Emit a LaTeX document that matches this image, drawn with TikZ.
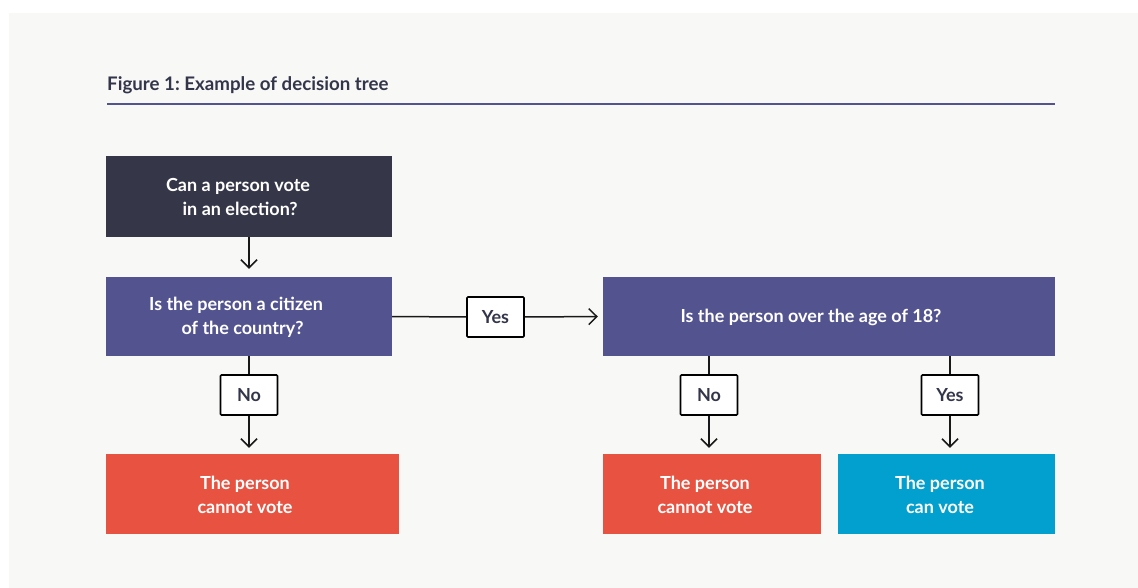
\documentclass[tikz,border=0pt]{standalone}
\usepackage{fontspec}
\setmainfont{Lato}
\frenchspacing
\usetikzlibrary{arrows.meta}
\definecolor{bgc}{HTML}{F8F8F6}
\definecolor{darkbox}{HTML}{353748}
\definecolor{purp}{HTML}{53548F}
\definecolor{redbox}{HTML}{E85341}
\definecolor{bluebox}{HTML}{02A0CF}
\definecolor{inkc}{HTML}{33364A}
\begin{document}
\begin{tikzpicture}[x=1pt,y=-1pt,
  box/.style={draw=none,minimum width=#1,inner sep=0pt,minimum height=80pt},
  boxtext/.style={text=white,align=center,font=\bfseries\fontsize{18}{24}\selectfont,inner sep=0pt},
  lab/.style={draw=black,fill=white,line width=1.6pt,rounded corners=1pt,minimum width=57pt,minimum height=40pt,inner sep=0pt,text=inkc,font=\bfseries\fontsize{18}{20}\selectfont},
  conn/.style={draw=black!90,line width=1.5pt},
  arr/.style={conn,-{Straight Barb[length=8pt,width=16pt,line width=1.5pt]},shorten >=6pt}]
\useasboundingbox (0,0) rectangle (1138,588);
\fill[white] (0,0) rectangle (1138,588);
\fill[bgc] (9,13) rectangle (1138,588);
% title
\node[anchor=base west,inner sep=0pt,text=inkc,font=\bfseries\fontsize{18.7}{22}\selectfont] (title) at (107,91) {Figure 1: Example of decision tree};
\draw[purp,line width=2pt] (107,104) coordinate (rl) -- (1055,104) coordinate (rr);
% boxes
\node[box=286pt,fill=darkbox,minimum height=81pt] (b1) at (249,196.5) {};
\node[boxtext] (t1) at (238,197) {Can a person vote\\\ in an election?};
\node[box=286pt,fill=purp,minimum height=79pt] (b2) at (249,316.5) {};
\node[boxtext] (t2) at (236,317) {Is the person a citizen\\\ \ \ of the country?};
\node[box=452pt,fill=purp,minimum height=79pt] (b3) at (829,316.5) {};
\node[boxtext] (t3) at (811,317) {Is the person over the age of 18?};
\node[box=293pt,fill=redbox] (b4) at (252.5,494) {};
\node[boxtext] (t4) at (245,495) {The person\\cannot vote};
\node[box=218pt,fill=redbox] (b5) at (712,494) {};
\node[boxtext] (t5) at (705,495) {The person\\cannot vote};
\node[box=217pt,fill=bluebox] (b6) at (946.5,494) {};
\node[boxtext] (t6) at (940,495) {The person\\can vote};
% label boxes
\node[lab] (yes1) at (495.5,317) {Yes};
\node[lab] (no1) at (249,395) {No};
\node[lab] (no2) at (709,395) {No};
\node[lab] (yes2) at (950,395) {Yes};
% connectors
\draw[arr,shorten >=8pt] (b1.south) -- (b2.north);
\draw[conn] (b2.east) -- (yes1.west);
\draw[arr,shorten >=5pt] (yes1.east) -- (b3.west);
\draw[conn] (no1.north |- b2.south) -- (no1.north);
\draw[arr] (no1.south) -- (no1.south |- b4.north);
\draw[conn] (no2.north |- b3.south) -- (no2.north);
\draw[arr] (no2.south) -- (no2.south |- b5.north);
\draw[conn] (yes2.north |- b3.south) -- (yes2.north);
\draw[arr] (yes2.south) -- (yes2.south |- b6.north);
\end{tikzpicture}
\end{document}
